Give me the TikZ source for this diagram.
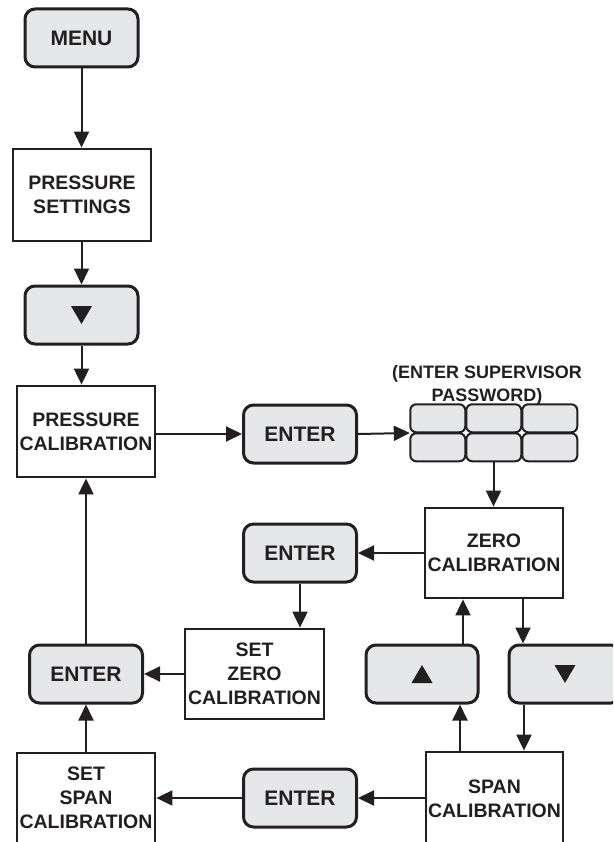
\documentclass[tikz,border=0pt]{standalone}
\usepackage{fontspec}
\setmainfont{Liberation Sans}
\usetikzlibrary{arrows.meta,calc,positioning}
\definecolor{keygray}{HTML}{E6E7E8}
\definecolor{inkgray}{HTML}{231F20}

\begin{document}
\begin{tikzpicture}[
    x=1pt, y=-1pt, color=inkgray,
    btn/.style={draw, rounded corners=10pt, fill=keygray, line width=3pt,
        minimum width=113pt, minimum height=58pt, inner sep=0pt,
        font=\fontsize{21}{24}\selectfont\bfseries},
    stepbox/.style={draw, fill=white, line width=2.8pt, align=center,
        minimum width=138pt, minimum height=91pt, inner sep=1pt,
        font=\fontsize{19.5}{24}\selectfont\bfseries},
    key/.style={draw, rounded corners=6pt, fill=keygray, line width=2pt,
        minimum width=55pt, minimum height=28pt, inner sep=0pt},
    flow/.style={-{Triangle[length=16pt,width=15pt]}, line width=2pt}
]
\useasboundingbox (0,0) rectangle (613,842);
\clip (0,0) rectangle (613,842);

% left column
\node[btn] (menu) at (81.5,38) {MENU};
\node[stepbox, minimum height=92pt] (pset) at (82,195) {PRESSURE\\SETTINGS};
\node[btn] (down1) at (81.5,315) {};
\node[stepbox] (pcal) at (86,431.5) {PRESSURE\\CALIBRATION};
\node[btn] (enter4) at (86,674) {ENTER};
\node[stepbox, minimum height=90pt] (sspan) at (86,798) {SET\\SPAN\\CALIBRATION};

% middle column
\node[btn] (enter1) at (300,434) {ENTER};
\node[btn] (enter2) at (300,553) {ENTER};
\node[stepbox, minimum width=139pt, minimum height=90pt] (szero) at (254.5,674) {SET\\ZERO\\CALIBRATION};
\node[btn] (enter3) at (300,798) {ENTER};

% password keypad
\node[minimum width=167pt, minimum height=58pt, inner sep=0pt] (keypad) at (493.5,433) {};
\foreach \c in {0,1,2}
  \foreach \r in {0,1}
    \node[key] (key\c\r) at ($(keypad.north west)+(28+\c*56,14.5+\r*29)$) {};
\node[align=center, font=\fontsize{18}{23}\selectfont\bfseries] (pwd) at (487,385) {(ENTER SUPERVISOR\\PASSWORD)};

% right column
\node[stepbox, minimum height=90pt] (zcal) at (494,553) {ZERO\\CALIBRATION};
\node[btn, minimum width=112pt] (up) at (422,674) {};
\node[btn, minimum width=112pt] (down2) at (565,674) {};
\node[stepbox, minimum width=137pt, minimum height=94pt] (scal) at (494.5,799) {SPAN\\CALIBRATION};

% arrow glyphs on the keys
\fill ($(down1)+(-10.5,-9)$) -- ($(down1)+(10.5,-9)$) -- ($(down1)+(0,9)$) -- cycle;
\fill ($(down2)+(-10.5,-9)$) -- ($(down2)+(10.5,-9)$) -- ($(down2)+(0,9)$) -- cycle;
\fill ($(up)+(-10.5,9)$) -- ($(up)+(10.5,9)$) -- ($(up)+(0,-9)$) -- cycle;

% connectors
\draw[flow] (menu.south) -- (menu.south |- pset.north);
\draw[flow] (pset.south -| down1.north) -- (down1.north);
\draw[flow] (down1.south) -- (down1.south |- pcal.north);
\draw[flow] (pcal.east |- enter1.west) -- (enter1.west);
\draw[flow] (enter1.east) -- (keypad.west);
\draw[flow] (keypad.south) -- (keypad.south |- zcal.north);
\draw[flow] (zcal.west) -- (zcal.west -| enter2.east);
\draw[flow] (enter2.south) -- (enter2.south |- szero.north);
\draw[flow] (szero.west) -- (szero.west -| enter4.east);
\draw[flow] (enter4.north) -- (pcal.south);
\draw[flow] (sspan.north) -- (enter4.south);
\draw[flow] ([xshift=29pt]zcal.south) -- ([xshift=29pt]zcal.south |- down2.north);
\draw[flow] ([xshift=-31pt]zcal.south |- up.north) -- ([xshift=-31pt]zcal.south);
\draw[flow] ([xshift=-34.5pt]scal.north) -- ([xshift=-34.5pt]scal.north |- up.south);
\draw[flow] ([xshift=29.5pt]scal.north |- down2.south) -- ([xshift=29.5pt]scal.north);
\draw[flow] (scal.west |- enter3.east) -- (enter3.east);
\draw[flow] (enter3.west) -- (enter3.west -| sspan.east);
\end{tikzpicture}
\end{document}
